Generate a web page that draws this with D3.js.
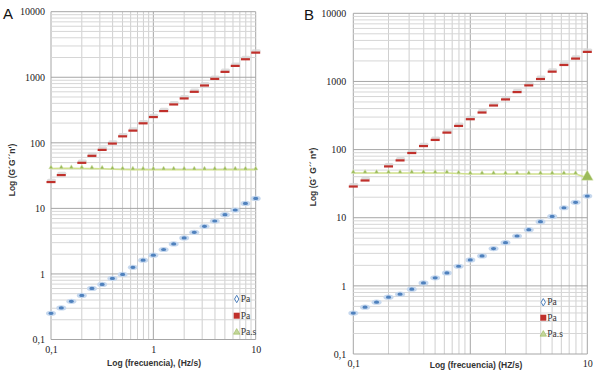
<!DOCTYPE html>
<html><head><meta charset="utf-8">
<script src="https://cdn.jsdelivr.net/npm/d3@7"></script>
<style>
body{margin:0;background:#fff;}
svg{display:block;}
</style></head>
<body>
<svg id="c" width="598" height="375"></svg>
<script>
// ---- data ----
const freq = [0.1,0.126,0.158,0.2,0.251,0.316,0.398,0.501,0.631,0.794,1,1.26,1.58,2,2.51,3.16,3.98,5.01,6.31,7.94,10];
const majorX = [0.1,1,10];
const xTickValuesA = [0.1,1,10];
const xTickLabelsA = ["0,1","1","10"];
const xTickValuesB = [0.1,10];
const xTickLabelsB = ["0,1","10"];
const yTickValues = [0.1,1,10,100,1000,10000];
const yTickLabels = ["0,1","1","10","100","1000","10000"];
const legendLabels = ["Pa","Pa","Pa.s"];

// Panel A
const aBlue  = [0.251,0.303,0.382,0.471,0.602,0.693,0.855,0.982,1.26,1.62,1.93,2.36,2.87,3.54,4.32,5.33,6.42,8.01,9.44,11.9,14.2];
const aRed   = [25.3,32.3,null,49.7,63.5,78.3,97.7,126,154,199,248,306,386,477,602,751,948,1213,1496,1888,2384];
const aGreen = [40.5,40.8,40.8,40.6,40.4,40.2,39.6,39.2,39.0,39.0,38.9,39.0,39.0,38.9,38.9,38.9,38.9,39.0,39.0,39.0,39.0];
// Panel B
const bBlue  = [0.398,0.487,0.577,0.683,0.755,0.894,1.106,1.31,1.55,1.94,2.40,2.75,3.52,4.31,5.39,6.68,8.74,10.46,14.0,16.8,20.8];
const bRed   = [28.8,35.3,null,56.8,69.6,89.3,113,139,178,223,280,351,445,546,700,878,1089,1396,1750,2171,2723];
const bGreen = [45.3,45.3,45.3,45.3,45.3,45.3,45.3,45.3,45.3,44.5,43.8,43.8,43.8,43.8,43.8,43.8,43.8,43.8,43.8,43.8,38.5];

const colBlue="#4f81bd", colRed="#c0302b", colGreen="#9bbb59";
const svg=d3.select("#c");

function panel(cfg){
  const x=d3.scaleLog().domain([0.1,10]).range([cfg.x0,cfg.x1]);
  const y=d3.scaleLog().domain([0.1,10000]).range([cfg.y0,cfg.y1]);
  const g=svg.append("g");
  // minor grid
  g.append("g").selectAll("line").data(x.ticks()).join("line")
    .attr("x1",d=>x(d)).attr("x2",d=>x(d)).attr("y1",cfg.y0).attr("y2",cfg.y1)
    .attr("stroke",d=>majorX.includes(d)?"#a6a6a6":"#cfcfcf").attr("stroke-width",1);
  g.append("g").selectAll("line").data(y.ticks()).join("line")
    .attr("y1",d=>y(d)).attr("y2",d=>y(d)).attr("x1",cfg.x0).attr("x2",cfg.x1)
    .attr("stroke",d=>yTickValues.includes(d)?"#a6a6a6":"#d6d6d6").attr("stroke-width",1);
  // axes (labels)
  const ax=g.append("g").attr("transform",`translate(0,${cfg.y0})`)
    .call(d3.axisBottom(x).tickValues(cfg.xtv).tickFormat((d,i)=>cfg.xtl[i]).tickSize(0).tickPadding(cfg.xpad));
  const ay=g.append("g").attr("transform",`translate(${cfg.x0},0)`)
    .call(d3.axisLeft(y).tickValues(yTickValues).tickFormat((d,i)=>yTickLabels[i]).tickSize(0).tickPadding(cfg.ypad));
  [ax,ay].forEach(a=>{a.select(".domain").remove();
    a.selectAll("text").attr("font-family","'Liberation Serif','Times New Roman',serif").attr("font-size",10).attr("fill","#222");});

  // green line
  const pts=freq.map((f,i)=>[f,cfg.green[i]]);
  g.append("path").attr("d",d3.line().x(d=>x(d[0])).y(d=>y(d[1]))(pts))
    .attr("fill","none").attr("stroke","#cfe08a").attr("stroke-width",1.6);
  // green triangles
  const tri=d3.symbol().type(d3.symbolTriangle);
  g.append("g").selectAll("path").data(pts).join("path")
    .attr("transform",d=>`translate(${x(d[0])},${y(d[1])-1})`)
    .attr("d",(d,i)=>tri.size(cfg.bigLast&&i===pts.length-1?60:9)())
    .attr("fill",colGreen).attr("stroke","#dde9bd").attr("stroke-width",0.5);
  // red
  const rp=freq.map((f,i)=>[f,cfg.red[i]]).filter(d=>d[1]!=null);
  const rg=g.append("g").selectAll("g").data(rp).join("g")
    .attr("transform",d=>`translate(${x(d[0])},${y(d[1])})`);
  rg.append("rect").attr("x",-4).attr("y",-3.3).attr("width",9).attr("height",3).attr("rx",1.5).attr("fill","#d6d6d6").attr("opacity",0.8);
  rg.append("rect").attr("x",-4.5).attr("y",-1).attr("width",9).attr("height",2.2).attr("fill",colRed);
  // blue
  const bp=freq.map((f,i)=>[f,cfg.blue[i]]);
  const bg=g.append("g").selectAll("g").data(bp).join("g")
    .attr("transform",d=>`translate(${x(d[0])},${y(d[1])})`);
  bg.append("ellipse").attr("rx",5).attr("ry",2.6).attr("fill","#c6d8ee");
  bg.append("ellipse").attr("rx",2.6).attr("ry",1.6).attr("fill",colBlue);

  // legend
  const lg=g.append("g").attr("font-family","'Liberation Serif','Times New Roman',serif").attr("font-size",9.5).attr("fill","#333");
  const ly=cfg.legY;
  lg.append("path").attr("transform",`translate(${cfg.legX},${ly[0]})`).attr("d",d3.symbol().type(d3.symbolDiamond).size(16)())
    .attr("fill","#fff").attr("stroke",colBlue).attr("stroke-width",1);
  lg.append("rect").attr("x",cfg.legX-3).attr("y",ly[1]-3).attr("width",6).attr("height",6).attr("fill",colRed);
  lg.append("path").attr("transform",`translate(${cfg.legX},${ly[2]})`).attr("d",d3.symbol().type(d3.symbolTriangle).size(18)())
    .attr("fill","#c3d69b").attr("stroke",colGreen).attr("stroke-width",0.6);
  legendLabels.forEach((t,i)=>lg.append("text").attr("x",cfg.legX+4).attr("y",ly[i]+3).text(t));

  // titles
  svg.append("text").attr("x",cfg.xtX).attr("y",cfg.xtY).attr("text-anchor","middle")
    .attr("font-family","'Liberation Sans',Arial,sans-serif").attr("font-size",8.5).attr("font-weight","bold").attr("fill","#333")
    .text(cfg.xTitle);
  svg.append("text").attr("transform",`translate(${cfg.ytX},${cfg.ytY}) rotate(-90)`).attr("text-anchor","middle")
    .attr("font-family","'Liberation Sans',Arial,sans-serif").attr("font-size",8.5).attr("font-weight","bold").attr("fill","#333")
    .text(cfg.yTitle);
  svg.append("text").attr("x",cfg.lX).attr("y",cfg.lY).attr("font-family","'Liberation Sans',Arial,sans-serif")
    .attr("font-size",15).attr("fill","#111").text(cfg.letter);
}

panel({x0:51,x1:255.7,y0:339.5,y1:11.7,blue:aBlue,red:aRed,green:aGreen,bigLast:false,
  xtv:xTickValuesA,xtl:xTickLabelsA,
  xpad:6,ypad:6,legX:236.7,legY:[299,315.7,332.3],
  xTitle:"Log (frecuencia), (Hz/s)",xtX:154,xtY:366,yTitle:"Log (G´G´´n')",ytX:15,ytY:170,
  letter:"A",lX:3,lY:19});
panel({x0:353.3,x1:587.3,y0:354,y1:13.3,blue:bBlue,red:bRed,green:bGreen,bigLast:true,
  xtv:xTickValuesB,xtl:xTickLabelsB,
  xpad:6,ypad:7,legX:543.3,legY:[302.3,317.7,334.3],
  xTitle:"Log (frecuencia)  (HZ/s)",xtX:476,xtY:368,yTitle:"Log (G´ G´´ n*)",ytX:316,ytY:177,
  letter:"B",lX:304,lY:20});
</script>
</body></html>
